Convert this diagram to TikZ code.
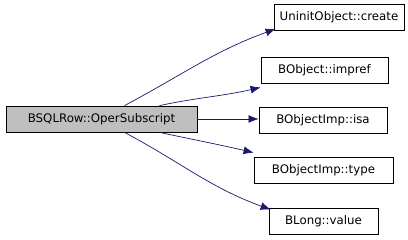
\documentclass[tikz,border=0pt]{standalone}
\usepackage{fontspec}
\setmainfont{DejaVu Sans}
\usetikzlibrary{arrows.meta}

\begin{document}
\begin{tikzpicture}[x=1pt,y=-1pt]
  \tikzset{fnbox/.style={draw=black,fill=white,line width=0.8pt,inner sep=0pt,minimum height=26pt,font=\fontsize{11.8}{14}\selectfont},
    callarrow/.style={draw={rgb,255:red,25;green,25;blue,112},line width=0.7pt,-{Latex[length=10pt,width=8pt]}}}
  \useasboundingbox (0,0) rectangle (408,240);
  \node[fnbox,fill=black!25,minimum width=191pt] (root) at (101.5,119) {BSQLRow::OperSubscript};
  \node[fnbox,minimum width=130pt] (create) at (339,17.5) {UninitObject::create};
  \node[fnbox,minimum width=127pt] (impref) at (324.5,70) {BObject::impref};
  \node[fnbox,minimum width=128pt] (isa) at (323,120) {BObjectImp::isa};
  \node[fnbox,minimum width=139pt] (type) at (323.5,170) {BObjectImp::type};
  \node[fnbox,minimum width=109pt] (value) at (323.5,221) {BLong::value};
  \draw[callarrow] ([xshift=23pt]root.north) to[out=28,in=200] ([xshift=2pt,yshift=2pt]create.south west);
  \draw[callarrow] ([xshift=58pt]root.north) to[out=12,in=193] ([yshift=-4pt]impref.south west);
  \draw[callarrow] (root.east) -- (root.east -| isa.west);
  \draw[callarrow] ([xshift=58pt]root.south) to[out=-12,in=167] ([yshift=4pt]type.north west);
  \draw[callarrow] ([xshift=23pt]root.south) to[out=-28,in=160] ([xshift=2pt,yshift=-2pt]value.north west);
\end{tikzpicture}
\end{document}
